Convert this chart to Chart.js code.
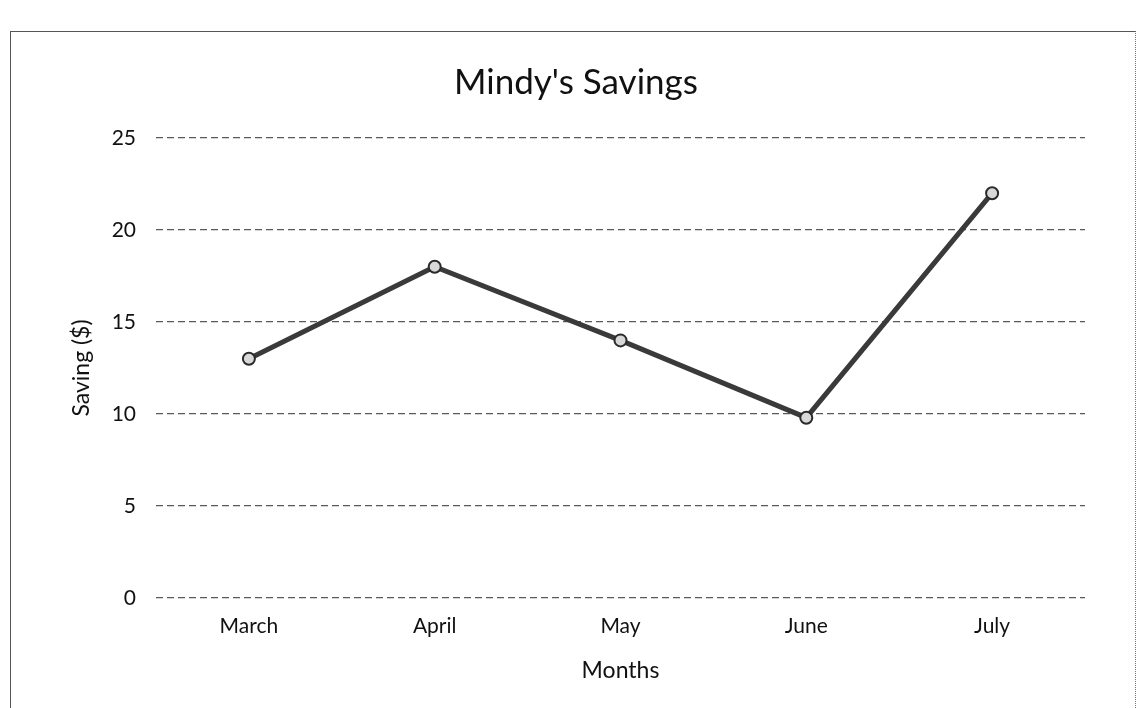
<!DOCTYPE html>
<html>
<head>
<meta charset="utf-8">
<script src="https://cdn.jsdelivr.net/npm/chart.js@4.4.1/dist/chart.umd.min.js"></script>
<style>
  html, body { margin: 0; padding: 0; background: #ffffff; }
  #wrap { position: relative; width: 1143px; height: 708px; }
  #frame { position: absolute; left: 10px; top: 31px; width: 1124px; height: 700px;
           border-left: 1px solid #555; border-top: 1px solid #555; border-right: 1px dotted #777;
           pointer-events: none; }
  canvas { position: absolute; left: 0; top: 0; }
</style>
</head>
<body>
<div id="wrap">
  <canvas id="c" width="1143" height="708"></canvas>
  <div id="frame"></div>
</div>
<script>
const chartTitle = "Mindy's Savings";
const xAxisTitle = "Months";
const yAxisTitle = "Saving ($)";
const months = ["March", "April", "May", "June", "July"];
const savings = [13, 18, 14, 9.8, 22];
const yMin = 0;
const yMax = 25;
const yStep = 5;

const FONT = "Lato, 'Open Sans', sans-serif";

new Chart(document.getElementById('c'), {
  type: 'line',
  data: {
    labels: months,
    datasets: [{
      label: 'Savings',
      data: savings,
      borderColor: '#3a3a3a',
      borderWidth: 5,
      tension: 0,
      pointRadius: 6,
      pointBackgroundColor: '#d8d8d8',
      pointBorderColor: '#2a2a2a',
      pointBorderWidth: 2,
      fill: false
    }]
  },
  options: {
    responsive: false,
    animation: false,
    devicePixelRatio: 1,
    layout: { padding: { left: 67, right: 58, top: 0, bottom: 0 } },
    plugins: {
      legend: { display: false },
      tooltip: { enabled: false },
      title: {
        display: true,
        text: chartTitle,
        color: '#111',
        font: { family: FONT, size: 35, weight: 'normal' },
        padding: { top: 62, bottom: 34 }
      }
    },
    scales: {
      x: {
        type: 'category',
        offset: true,
        grid: { display: false, drawTicks: false },
        border: { display: false },
        ticks: { color: '#111', font: { family: FONT, size: 21 }, padding: 16 },
        title: { display: true, text: xAxisTitle, color: '#111',
                 font: { family: FONT, size: 23 }, padding: { top: 4, bottom: 24 } },
        afterFit: (s) => { s.height = 110; }
      },
      y: {
        min: yMin,
        max: yMax,
        grid: { color: '#5a5a5a', lineWidth: 1.2, drawTicks: false },
        border: { display: false, dash: [7, 4] },
        ticks: { stepSize: yStep, color: '#111', font: { family: FONT, size: 21 }, padding: 20 },
        title: { display: true, text: yAxisTitle, color: '#111',
                 font: { family: FONT, size: 23 }, padding: { top: 1, bottom: 0 } },
        afterFit: (s) => { s.width = 89; }
      }
    }
  }
});
</script>
</body>
</html>
